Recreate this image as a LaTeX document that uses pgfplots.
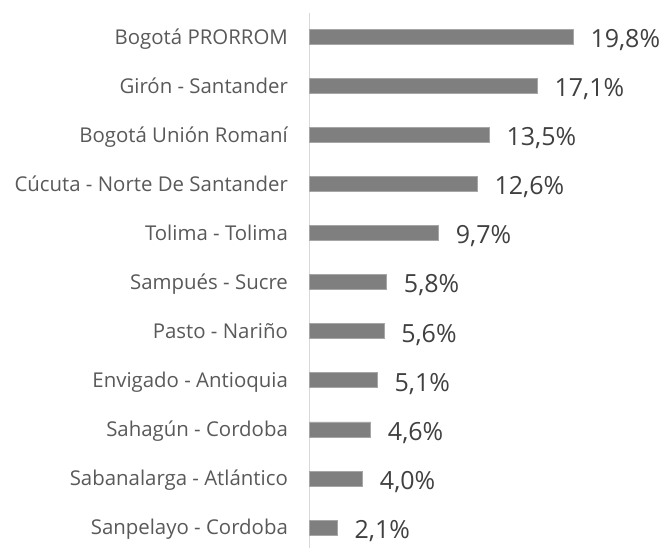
\documentclass[border=0pt]{standalone}
\usepackage{fontspec}
\setmainfont{Open Sans}
\usepackage{pgfplots}
\pgfplotsset{compat=1.18}
\definecolor{barc}{HTML}{7F7F7F}
\definecolor{bare}{HTML}{A6A6A6}
\definecolor{labc}{HTML}{595959}
\definecolor{valc}{HTML}{404040}
\definecolor{axc}{HTML}{D9D9D9}
\begin{document}
\begin{tikzpicture}
\useasboundingbox (0,0) rectangle (331.5pt,274pt);
\begin{axis}[
  at={(154.65pt,0pt)}, anchor=south west,
  scale only axis,
  width=173.2pt, height=267.5pt,
  xmin=0, xmax=26,
  ymin=-0.4156, ymax=10.483,
  xbar, bar width=7.5pt,
  separate axis lines,
  axis x line*=bottom, axis y line*=left,
  x axis line style={draw=none},
  y axis line style={draw=axc, line width=0.75pt},
  xtick=\empty,
  ytick={0,...,10},
  ytick style={draw=none},
  yticklabels={Sanpelayo - Cordoba, Sabanalarga - Atlántico, Sahagún - Cordoba, Envigado - Antioquia, Pasto - Nariño, Sampués - Sucre, Tolima - Tolima, Cúcuta - Norte De Santander, Bogotá Unión Romaní, Girón - Santander, Bogotá PRORROM},
  yticklabel style={font=\fontsize{10.2pt}{12pt}\selectfont, text=labc, anchor=east, inner sep=0pt, xshift=-6.25pt, text height=7.3pt, text depth=0pt},
  /pgf/number format/assume math mode=true,
  nodes near coords={\pgfmathprintnumber[fixed,fixed zerofill,precision=1,use comma]{\pgfplotspointmeta}\%},
  every node near coord/.append style={font=\fontsize{12.5pt}{14pt}\selectfont, text=valc, anchor=west, inner sep=0pt, xshift=8.5pt, yshift=-0.9pt, text height=9pt, text depth=0pt},
  clip=false,
]
\addplot[fill=barc, draw=bare, line width=0.4pt] coordinates {
  (2.1,0) (4.0,1) (4.6,2) (5.1,3) (5.6,4) (5.8,5) (9.7,6) (12.6,7) (13.5,8) (17.1,9) (19.8,10)
};
\end{axis}
\end{tikzpicture}
\end{document}
